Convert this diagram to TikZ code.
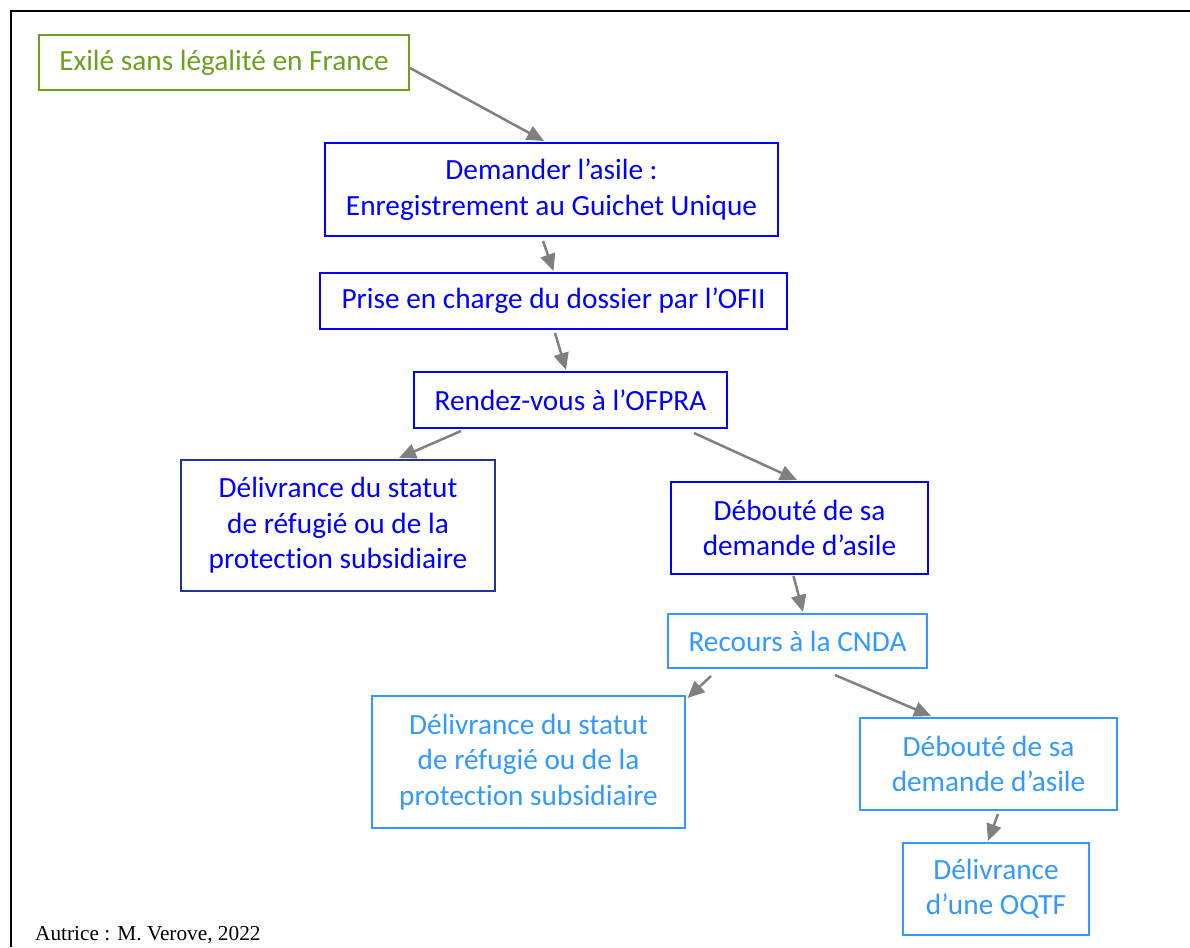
\documentclass[tikz,border=0pt]{standalone}
\usepackage{fontspec}
\setmainfont{Carlito}[Ligatures=NoCommon]
\newfontfamily\tnr{Liberation Serif}
\usetikzlibrary{arrows.meta,calc}
\definecolor{exgreen}{RGB}{108,160,30}
\definecolor{dblue}{RGB}{0,0,255}
\definecolor{navy}{RGB}{30,55,150}
\definecolor{lblue}{RGB}{51,153,255}
\definecolor{arrgray}{RGB}{128,128,128}
\tikzset{
  box/.style={draw, rectangle, line width=2pt, inner sep=0pt, align=center,
    font=\fontsize{29.3}{35.5}\selectfont},
  greenbox/.style={box, draw=exgreen, text=exgreen},
  bluebox/.style={box, draw=dblue, text=dblue},
  navybox/.style={box, draw=navy, text=dblue},
  lightbox/.style={box, draw=lblue, text=lblue},
  arr/.style={draw=arrgray, line width=2.5pt, -{Triangle[length=17pt,width=15pt]}},
}
\begin{document}
\begin{tikzpicture}[x=1pt,y=-1pt]
\useasboundingbox (0,0) rectangle (1190,947);
\draw[line width=2.5pt, line join=miter] (11,947) -- (11,11) -- (1190,11);

\node[greenbox, minimum width=370pt, minimum height=55pt] (b1) at (224,62.5) {Exilé sans légalité en France};
\node[bluebox, minimum width=453pt, minimum height=93pt] (b2) at (551.5,189.5) {Demander l’asile :\\Enregistrement au Guichet Unique};
\node[bluebox, minimum width=467pt, minimum height=56pt] (b3) at (553.5,301) {Prise en charge du dossier par l’OFII};
\node[bluebox, minimum width=313pt, minimum height=56pt] (b4) at (570.5,400) {Rendez-vous à l’OFPRA};
\node[navybox, minimum width=314pt, minimum height=131pt] (b5) at (338,525.5) {Délivrance du statut\\de réfugié ou de la\\protection subsidiaire};
\node[bluebox, minimum width=257pt, minimum height=92pt] (b6) at (799.5,528) {Débouté de sa\\demande d’asile};
\node[lightbox, minimum width=259pt, minimum height=54pt] (b7) at (797.5,641) {Recours à la CNDA};
\node[lightbox, minimum width=313pt, minimum height=132pt] (b8) at (528.5,762) {Délivrance du statut\\de réfugié ou de la\\protection subsidiaire};
\node[lightbox, minimum width=257pt, minimum height=92pt] (b9) at (988.5,764) {Débouté de sa\\demande d’asile};
\node[lightbox, minimum width=186pt, minimum height=92pt] (b10) at (996,889) {Délivrance\\d’une OQTF};

\node[anchor=base west, inner sep=0pt, font=\tnr\fontsize{21.3}{24}\selectfont] (credit) at (35,940) {Autrice : M. Verove, 2022};

\draw[arr] ($(b1.east)+(0,5.5)$) -- ($(b2.north west)+(220,-1)$);
\draw[arr] ($(b2.south)+(-8.5,4)$) -- ($(b3.north)+(0,-1)$);
\draw[arr] ($(b3.south)+(1.5,3)$) -- ($(b4.north)+(-4.5,-1)$);
\draw[arr] ($(b4.south west)+(48,2)$) -- ($(b5.north)+(61,-1)$);
\draw[arr] ($(b4.south east)+(-34,4)$) -- ($(b6.north)+(-2.5,-1)$);
\draw[arr] ($(b6.south)+(-6,1)$) -- ($(b7.north)+(5.5,-1)$);
\draw[arr] ($(b7.south west)+(44,7)$) -- ($(b8.north east)+(1.5,3)$);
\draw[arr] ($(b7.south)+(37.5,6)$) -- ($(b9.north west)+(72,-1)$);
\draw[arr] ($(b9.south)+(9.5,3)$) -- ($(b10.north)+(-8,-1)$);
\end{tikzpicture}
\end{document}
